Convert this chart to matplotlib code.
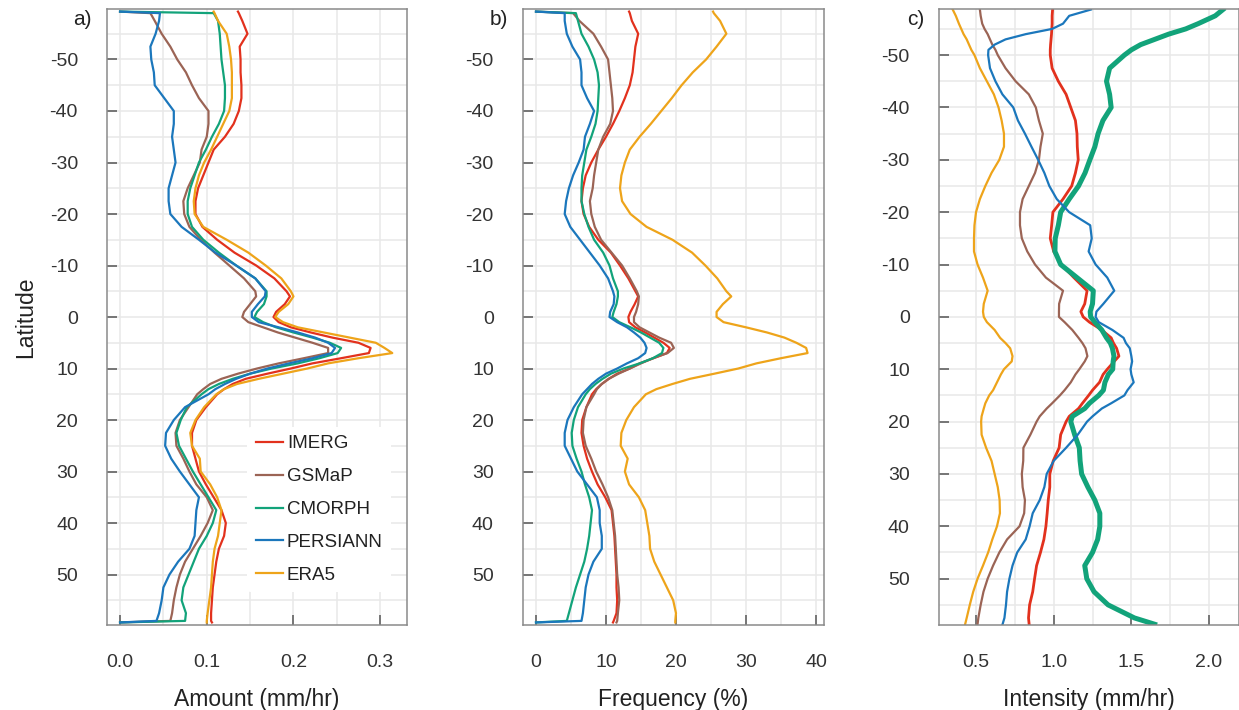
import matplotlib
matplotlib.use("Agg")
import matplotlib.pyplot as plt
from matplotlib.ticker import MultipleLocator

plt.rcParams['font.family'] = ['Liberation Sans', 'DejaVu Sans']
plt.rcParams['axes.unicode_minus'] = False

products = ["IMERG", "GSMaP", "CMORPH", "PERSIANN", "ERA5"]
colors = ["#e2311d", "#9b6455", "#12a37a", "#1b77bc", "#eea41a"]

# latitudes used for panels a) and b)
lat_ab = [-59.3, -59, -57.5, -55, -52.5, -50, -47.5, -45, -42.5, -40,
          -37.5, -35, -32.5, -30, -27.5, -25, -22.5, -20, -17.5, -15,
          -12.5, -10, -7.5, -5, -4, -2.5, -1, 0, 1, 2,
          3, 4, 5, 6, 7, 8, 9, 10, 11, 12,
          13, 14, 15, 17.5, 20, 22.5, 25, 27.5, 30, 32.5,
          35, 37.5, 40, 42.5, 45, 47.5, 50, 52.5, 55, 57.5,
          59, 59.3]

# a) amount (mm/hr)
amount_imerg = [0.136, 0.137, 0.141, 0.147, 0.138, 0.139, 0.139, 0.140, 0.140, 0.137,
                0.131, 0.121, 0.108, 0.102, 0.096, 0.090, 0.087, 0.087, 0.095, 0.112,
                0.132, 0.157, 0.178, 0.192, 0.196, 0.190, 0.180, 0.177, 0.183, 0.197,
                0.220, 0.245, 0.275, 0.289, 0.287, 0.255, 0.222, 0.197, 0.170, 0.145,
                0.130, 0.120, 0.112, 0.099, 0.088, 0.083, 0.083, 0.087, 0.091, 0.099,
                0.108, 0.117, 0.122, 0.120, 0.114, 0.111, 0.109, 0.107, 0.106, 0.105,
                0.105, 0.106]
amount_gsmap = [0.0, 0.035, 0.040, 0.048, 0.058, 0.066, 0.076, 0.083, 0.091, 0.102,
                0.102, 0.100, 0.094, 0.092, 0.085, 0.078, 0.073, 0.074, 0.080, 0.093,
                0.109, 0.126, 0.143, 0.156, 0.157, 0.150, 0.143, 0.141, 0.148, 0.165,
                0.182, 0.202, 0.222, 0.240, 0.240, 0.212, 0.183, 0.158, 0.136, 0.117,
                0.104, 0.096, 0.089, 0.079, 0.069, 0.064, 0.065, 0.073, 0.080, 0.088,
                0.100, 0.107, 0.101, 0.093, 0.084, 0.075, 0.069, 0.065, 0.062, 0.060,
                0.058, 0.0]
amount_cmorph = [0.0, 0.108, 0.113, 0.115, 0.116, 0.117, 0.119, 0.121, 0.121, 0.120,
                 0.114, 0.106, 0.099, 0.091, 0.086, 0.081, 0.078, 0.078, 0.083, 0.096,
                 0.114, 0.134, 0.156, 0.169, 0.169, 0.166, 0.158, 0.155, 0.165, 0.180,
                 0.200, 0.222, 0.242, 0.255, 0.251, 0.230, 0.205, 0.175, 0.150, 0.130,
                 0.114, 0.102, 0.094, 0.077, 0.070, 0.065, 0.068, 0.076, 0.084, 0.093,
                 0.102, 0.111, 0.107, 0.100, 0.091, 0.085, 0.079, 0.073, 0.071, 0.076,
                 0.075, 0.0]
amount_persiann = [0.0, 0.046, 0.045, 0.041, 0.035, 0.036, 0.039, 0.040, 0.051, 0.062,
                   0.062, 0.060, 0.062, 0.064, 0.060, 0.056, 0.056, 0.058, 0.071, 0.091,
                   0.110, 0.134, 0.156, 0.168, 0.167, 0.159, 0.152, 0.152, 0.160, 0.183,
                   0.205, 0.225, 0.240, 0.248, 0.244, 0.222, 0.195, 0.170, 0.150, 0.134,
                   0.121, 0.110, 0.102, 0.075, 0.062, 0.053, 0.052, 0.059, 0.069, 0.080,
                   0.091, 0.088, 0.087, 0.086, 0.080, 0.067, 0.057, 0.050, 0.048, 0.045,
                   0.042, 0.0]
amount_era5 = [0.108, 0.109, 0.113, 0.123, 0.126, 0.128, 0.129, 0.129, 0.129, 0.126,
               0.119, 0.112, 0.105, 0.097, 0.091, 0.087, 0.085, 0.086, 0.096, 0.123,
               0.148, 0.168, 0.186, 0.197, 0.200, 0.194, 0.183, 0.179, 0.188, 0.205,
               0.235, 0.265, 0.295, 0.305, 0.314, 0.275, 0.240, 0.216, 0.188, 0.160,
               0.135, 0.120, 0.111, 0.097, 0.087, 0.081, 0.083, 0.092, 0.093, 0.104,
               0.112, 0.117, 0.115, 0.113, 0.109, 0.107, 0.106, 0.105, 0.103, 0.101,
               0.100, 0.100]

# b) frequency (%)
freq_imerg = [13.3, 13.4, 13.7, 14.6, 14.2, 14.0, 13.8, 13.4, 12.7, 11.9,
              11.0, 10.0, 8.9, 7.9, 7.1, 6.7, 6.5, 6.8, 7.6, 8.9,
              10.7, 12.0, 13.2, 14.2, 14.6, 14.1, 13.5, 13.2, 13.3, 14.2,
              15.6, 16.9, 18.2, 19.1, 18.7, 16.8, 14.8, 13.4, 11.6, 10.4,
              9.4, 8.6, 8.0, 7.2, 6.6, 6.5, 6.8, 7.3, 8.0, 8.8,
              9.9, 10.8, 11.0, 11.2, 11.3, 11.4, 11.5, 11.5, 11.6, 11.5,
              11.1, 11.0]
freq_gsmap = [0.0, 5.3, 6.2, 8.2, 9.3, 10.3, 10.5, 10.7, 10.9, 11.0,
              10.6, 9.6, 8.9, 8.6, 8.3, 8.1, 7.7, 7.9, 8.4, 9.3,
              10.8, 12.3, 13.4, 14.4, 14.7, 14.6, 14.3, 14.0, 14.0, 14.8,
              16.2, 17.6, 19.3, 19.7, 18.8, 16.7, 15.0, 13.4, 11.8, 10.4,
              9.4, 8.7, 8.3, 7.2, 6.8, 6.7, 7.1, 7.9, 8.6, 9.5,
              10.3, 10.9, 11.1, 11.3, 11.4, 11.5, 11.6, 11.8, 11.9, 11.7,
              11.6, 11.5]
freq_cmorph = [0.0, 5.7, 6.0, 6.5, 7.5, 8.3, 8.8, 9.0, 8.9, 8.8,
               8.5, 7.9, 7.2, 6.9, 6.6, 6.5, 6.5, 6.9, 7.5, 8.3,
               9.6, 10.5, 11.0, 11.7, 11.7, 11.5, 11.1, 10.9, 11.9, 13.5,
               15.0, 16.3, 17.6, 18.2, 18.0, 16.7, 14.8, 12.5, 10.7, 9.5,
               8.5, 7.7, 7.1, 6.0, 5.4, 5.1, 5.2, 5.8, 6.5, 7.0,
               7.6, 8.0, 7.8, 7.6, 7.3, 6.9, 6.3, 5.7, 5.2, 4.7,
               4.4, 0.0]
freq_persiann = [0.0, 4.1, 4.1, 4.4, 5.2, 6.3, 6.5, 6.5, 7.3, 8.3,
                 7.7, 7.0, 6.8, 6.1, 5.3, 4.7, 4.3, 4.1, 4.9, 6.3,
                 7.7, 9.1, 10.3, 11.0, 11.2, 11.1, 10.6, 10.5, 11.6, 13.0,
                 14.0, 14.9, 15.5, 15.8, 15.6, 14.6, 13.0, 11.6, 10.0, 8.9,
                 8.0, 7.3, 6.6, 5.4, 4.5, 4.1, 4.1, 5.0, 5.9, 7.3,
                 8.7, 9.1, 9.1, 9.4, 9.4, 8.2, 7.5, 7.1, 6.9, 6.7,
                 6.5, 0.0]
freq_era5 = [25.3, 25.4, 26.3, 27.2, 25.8, 24.3, 22.4, 20.8, 19.4, 17.9,
             16.4, 14.8, 13.4, 12.7, 12.2, 12.0, 12.3, 13.5, 15.8, 19.5,
             22.3, 24.2, 25.9, 27.2, 27.9, 26.7, 25.8, 25.8, 26.8, 30.0,
             33.0, 35.5, 37.2, 38.6, 38.8, 35.0, 31.5, 28.9, 25.5, 22.0,
             19.5, 17.2, 15.7, 14.0, 12.9, 12.2, 12.1, 13.1, 12.7, 13.3,
             14.7, 15.6, 15.9, 16.2, 16.3, 16.9, 17.8, 18.7, 19.6, 20.0,
             19.9, 19.9]

# c) intensity (mm/hr), own latitude list
lat_c = [-58.7, -57.5, -56, -55, -54, -53, -52, -51, -50, -47.5,
         -45, -42.5, -40, -37.5, -35, -32.5, -30, -27.5, -25, -22.5,
         -20, -17.5, -15, -12.5, -10, -7.5, -5, -2.5, -1, 0,
         1, 2.5, 4, 5, 6, 7.5, 8.5, 10, 11, 12.5,
         14, 15, 16.5, 17.5, 19, 20, 22.5, 25, 27.5, 30,
         32.5, 35, 37.5, 40, 42.5, 45, 47.5, 50, 52.5, 55,
         57.5, 58.7]
inten_imerg = [0.993, 0.99, 0.99, 0.988, 0.986, 0.983, 0.98, 0.978, 0.978, 0.99,
               1.03, 1.08, 1.11, 1.14, 1.15, 1.152, 1.158, 1.14, 1.116, 1.06,
               0.995, 0.987, 0.978, 1.0, 1.05, 1.13, 1.215, 1.2, 1.175, 1.19,
               1.23, 1.31, 1.37, 1.385, 1.405, 1.42, 1.39, 1.345, 1.318, 1.295,
               1.25, 1.225, 1.185, 1.16, 1.10, 1.08, 1.045, 1.035, 0.997, 0.975,
               0.975, 0.965, 0.958, 0.95, 0.937, 0.915, 0.89, 0.877, 0.865, 0.845,
               0.838, 0.842]
inten_gsmap = [0.525, 0.53, 0.54, 0.555, 0.575, 0.59, 0.605, 0.625, 0.64, 0.69,
               0.755, 0.84, 0.885, 0.905, 0.93, 0.915, 0.905, 0.88, 0.84, 0.80,
               0.783, 0.783, 0.795, 0.83, 0.88, 0.95, 1.06, 1.035, 1.034, 1.034,
               1.07, 1.12, 1.16, 1.185, 1.205, 1.217, 1.2, 1.165, 1.14, 1.11,
               1.07, 1.04, 0.99, 0.955, 0.91, 0.89, 0.85, 0.805, 0.804, 0.795,
               0.80, 0.815, 0.81, 0.78, 0.70, 0.65, 0.61, 0.575, 0.548, 0.53,
               0.515, 0.51]
inten_cmorph = [2.09, 2.04, 1.93, 1.85, 1.74, 1.65, 1.56, 1.50, 1.455, 1.36,
                1.34, 1.36, 1.37, 1.317, 1.286, 1.265, 1.233, 1.202, 1.16, 1.10,
                1.045, 1.03, 1.01, 1.008, 1.045, 1.15, 1.255, 1.25, 1.235, 1.238,
                1.265, 1.31, 1.34, 1.365, 1.378, 1.388, 1.383, 1.38, 1.352, 1.33,
                1.32, 1.29, 1.23, 1.20, 1.12, 1.11, 1.135, 1.165, 1.17, 1.18,
                1.22, 1.265, 1.297, 1.297, 1.283, 1.25, 1.20, 1.213, 1.26, 1.35,
                1.52, 1.65]
inten_persiann = [1.24, 1.10, 1.06, 0.99, 0.82, 0.69, 0.62, 0.58, 0.578, 0.59,
                  0.625, 0.67, 0.74, 0.77, 0.815, 0.857, 0.90, 0.94, 0.972, 1.02,
                  1.10, 1.235, 1.245, 1.225, 1.27, 1.345, 1.39, 1.32, 1.275, 1.27,
                  1.29, 1.378, 1.45, 1.465, 1.49, 1.50, 1.505, 1.495, 1.50, 1.515,
                  1.475, 1.455, 1.37, 1.31, 1.25, 1.215, 1.155, 1.08, 1.00, 0.955,
                  0.94, 0.91, 0.865, 0.845, 0.82, 0.765, 0.735, 0.715, 0.70, 0.693,
                  0.683, 0.671]
inten_era5 = [0.35, 0.37, 0.39, 0.405, 0.42, 0.44, 0.455, 0.47, 0.49, 0.525,
              0.57, 0.615, 0.645, 0.665, 0.68, 0.68, 0.65, 0.60, 0.56, 0.525,
              0.50, 0.49, 0.487, 0.487, 0.51, 0.545, 0.575, 0.55, 0.545, 0.55,
              0.57, 0.62, 0.655, 0.69, 0.72, 0.735, 0.73, 0.68, 0.66, 0.635,
              0.61, 0.585, 0.56, 0.55, 0.536, 0.533, 0.536, 0.565, 0.60, 0.62,
              0.64, 0.652, 0.654, 0.635, 0.605, 0.578, 0.545, 0.51, 0.482, 0.46,
              0.44, 0.43]

amount = [amount_imerg, amount_gsmap, amount_cmorph, amount_persiann, amount_era5]
freq = [freq_imerg, freq_gsmap, freq_cmorph, freq_persiann, freq_era5]
inten = [inten_imerg, inten_gsmap, inten_cmorph, inten_persiann, inten_era5]

fig = plt.figure(figsize=(12.39, 7.10), dpi=100)

def style_axis(ax, xlim, ylim, major, minor, xlabel, tag):
    ax.set_xlim(xlim)
    ax.set_ylim(ylim)  # north at the bottom
    ax.xaxis.set_major_locator(MultipleLocator(major))
    ax.xaxis.set_minor_locator(MultipleLocator(minor))
    ax.yaxis.set_major_locator(MultipleLocator(10))
    ax.yaxis.set_minor_locator(MultipleLocator(5))
    ax.grid(which="both", color="#e8e8e8", linewidth=1.1)
    ax.set_axisbelow(True)
    ax.tick_params(which="major", direction="in", length=7.5, width=1.1,
                   color="#555555", labelsize=14, labelcolor="#333333", pad=21)
    ax.tick_params(which="minor", length=0)
    for s in ax.spines.values():
        s.set_color("#8a8a8a")
        s.set_linewidth(1.1)
    ax.set_xlabel(xlabel, fontsize=16.5, color="#222222", labelpad=12)
    ax.text(-0.05, 0.999, tag, transform=ax.transAxes, ha="right", va="top",
            fontsize=15, color="#222222")

# a) amount
ax1 = fig.add_axes([0.0864, 0.1197, 0.2421, 0.8676])
for name, vals, c in zip(products, amount, colors):
    ax1.plot(vals, lat_ab, color=c, lw=1.6, label=name)
style_axis(ax1, (-0.015, 0.331), (59.8, -59.8), 0.1, 0.05, "Amount (mm/hr)", "a)")
ax1.set_ylabel("Latitude", fontsize=16.5, color="#222222", labelpad=9)
leg = ax1.legend(loc="center left", bbox_to_anchor=(0.468, 0.1875), frameon=True,
                 fontsize=13.5, handlelength=1.45, handletextpad=0.2,
                 labelspacing=0.84, borderpad=0.45, borderaxespad=0)
leg.get_frame().set_facecolor("white")
leg.get_frame().set_edgecolor("none")
leg.get_frame().set_alpha(1)
for t in leg.get_texts():
    t.set_color("#222222")

# b) frequency
ax2 = fig.add_axes([0.4221, 0.1197, 0.2429, 0.8676])
for name, vals, c in zip(products, freq, colors):
    ax2.plot(vals, lat_ab, color=c, lw=1.6)
style_axis(ax2, (-1.86, 41.14), (59.8, -59.8), 10, 5, "Frequency (%)", "b)")

# c) intensity, IMERG and CMORPH are very jagged in the original
lw_c = [2.0, 1.6, 3.6, 1.6, 1.6]
ax3 = fig.add_axes([0.7579, 0.1197, 0.2421, 0.8676])
for name, vals, c, lw in zip(products, inten, colors, lw_c):
    ax3.plot(vals, lat_c, color=c, lw=lw)
style_axis(ax3, (0.262, 2.193), (58.85, -58.8), 0.5, 0.25, "Intensity (mm/hr)", "c)")

fig.savefig("out.png", dpi=100)
